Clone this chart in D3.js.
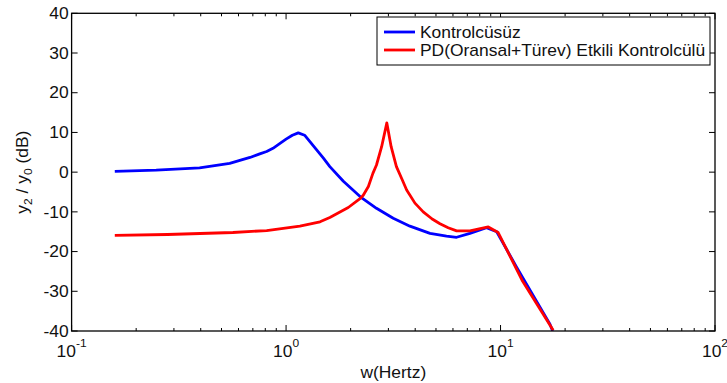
<!DOCTYPE html>
<html lang="tr">
<head>
<meta charset="UTF-8">
<title>y2/y0 frekans cevabı</title>
<style>
    body { margin: 0; background: #fff; }
    svg { display: block; font-family: "Liberation Sans", Arial, sans-serif; }
</style>
</head>
<body>
<script src="https://d3js.org/d3.v7.min.js"></script>
<script>
    const width = 727
    const height = 383

    // Kontrolcüsüz (blue)
    const blueFreq = [0.159, 0.248, 0.395, 0.546, 0.679, 0.754, 0.812, 0.869, 0.93, 1.0, 1.07, 1.14, 1.22, 1.49, 1.60, 1.85, 2.22, 2.64, 3.16, 3.78, 4.69, 5.6, 6.24, 7.2, 8.6, 9.6, 11.9, 17.0, 17.5]
    const blueDb = [0.2, 0.5, 1.1, 2.2, 3.7, 4.6, 5.2, 6.0, 7.1, 8.3, 9.3, 9.9, 9.3, 3.6, 1.4, -2.3, -6.2, -9.1, -11.6, -13.6, -15.4, -16.1, -16.4, -15.4, -14.0, -15.0, -24.0, -38.3, -40]

    // PD(Oransal+Türev) Etkili Kontrolcülü (red)
    const redFreq = [0.159, 0.28, 0.565, 0.812, 1.16, 1.44, 1.60, 1.95, 2.22, 2.29, 2.42, 2.54, 2.64, 2.79, 2.95, 3.09, 3.27, 3.46, 3.65, 3.99, 4.36, 4.8, 5.22, 5.7, 6.24, 7.2, 8.77, 9.75, 12.6, 17.6]
    const redDb = [-15.9, -15.7, -15.2, -14.7, -13.6, -12.5, -11.4, -8.9, -6.6, -5.8, -3.6, -0.3, 1.8, 6.4, 12.4, 6.4, 1.4, -1.6, -4.5, -7.8, -10.0, -11.8, -13.0, -14.0, -14.8, -14.8, -13.8, -15.2, -27.2, -39.8]

    const yTicks = [-40, -30, -20, -10, 0, 10, 20, 30, 40]
    const xDecades = [-1, 0, 1, 2]
    const legendLabels = ['Kontrolcüsüz', 'PD(Oransal+Türev) Etkili Kontrolcülü']
    const colors = ['#0000ff', '#ff0000']

    const pLeft = 71.6, pRight = 715, pTop = 13.3, pBottom = 331
    const stretch = 1.09 // text in the reference is a little wider than Arial

    const x = d3.scaleLog().domain([0.1, 100]).range([pLeft, pRight])
    const y = d3.scaleLinear().domain([-40, 40]).range([pBottom, pTop])

    const svg = d3.select('body').append('svg')
        .attr('width', width)
        .attr('height', height)

    // put a text at (tx, ty) with the horizontal stretch
    function place(sel, tx, ty) {
        sel.attr('transform', function (d, i) {
            const a = typeof tx === 'function' ? tx(d, i) : tx
            const b = typeof ty === 'function' ? ty(d, i) : ty
            return `translate(${ a },${ b }) scale(${ stretch },1)`
        })
    }

    // clip
    svg.append('clipPath').attr('id', 'plot')
        .append('rect')
        .attr('x', pLeft).attr('y', pTop)
        .attr('width', pRight - pLeft).attr('height', pBottom - pTop)

    // lines
    const series = [
        blueFreq.map((f, i) => [f, blueDb[i]]),
        redFreq.map((f, i) => [f, redDb[i]])
    ]
    const line = d3.line()
        .x(d => x(d[0]))
        .y(d => y(d[1]))

    svg.append('g')
        .attr('clip-path', 'url(#plot)')
        .selectAll('path')
        .data(series)
        .join('path')
        .attr('d', line)
        .attr('fill', 'none')
        .attr('stroke', (_, i) => colors[i])
        .attr('stroke-width', 2.8)
        .attr('stroke-linejoin', 'round')

    // ticks (inside, all four sides)
    const ticks = svg.append('g').attr('stroke', '#000').attr('stroke-width', 1)
    const minor = []
    for (let e = -1; e < 2; e++) {
        for (let k = 2; k <= 9; k++) minor.push(k * Math.pow(10, e))
    }
    minor.forEach(v => {
        const px = x(v)
        ticks.append('line').attr('x1', px).attr('x2', px).attr('y1', pBottom).attr('y2', pBottom - 3)
        ticks.append('line').attr('x1', px).attr('x2', px).attr('y1', pTop).attr('y2', pTop + 3)
    })
    xDecades.forEach(e => {
        const px = x(Math.pow(10, e))
        ticks.append('line').attr('x1', px).attr('x2', px).attr('y1', pBottom).attr('y2', pBottom - 6)
        ticks.append('line').attr('x1', px).attr('x2', px).attr('y1', pTop).attr('y2', pTop + 6)
    })
    yTicks.forEach(v => {
        const py = y(v)
        ticks.append('line').attr('x1', pLeft).attr('x2', pLeft + 6).attr('y1', py).attr('y2', py)
        ticks.append('line').attr('x1', pRight).attr('x2', pRight - 6).attr('y1', py).attr('y2', py)
    })

    // frame
    svg.append('rect')
        .attr('x', pLeft).attr('y', pTop)
        .attr('width', pRight - pLeft).attr('height', pBottom - pTop)
        .attr('fill', 'none')
        .attr('stroke', '#000')
        .attr('stroke-width', 1.3)

    // y tick labels
    svg.append('g')
        .selectAll('text')
        .data(yTicks)
        .join('text')
        .call(place, pLeft - 3, d => y(d))
        .attr('dy', '0.36em')
        .attr('text-anchor', 'end')
        .attr('font-size', 16)
        .attr('fill', '#111')
        .text(d => d)

    // x tick labels 10^n
    const xl = svg.append('g')
        .selectAll('text')
        .data(xDecades)
        .join('text')
        .call(place, d => x(Math.pow(10, d)), 357)
        .attr('text-anchor', 'middle')
        .attr('font-size', 16)
        .attr('fill', '#111')
    xl.append('tspan').text('10')
    xl.append('tspan')
        .attr('dy', -10)
        .attr('font-size', 11)
        .text(d => d)

    // axis titles
    svg.append('text')
        .call(place, (pLeft + pRight) / 2, 378)
        .attr('text-anchor', 'middle')
        .attr('font-size', 16)
        .attr('fill', '#111')
        .text('w(Hertz)')

    const yl = svg.append('text')
        .attr('transform', `translate(28, ${ (pTop + pBottom) / 2 }) rotate(-90) scale(${ stretch },1)`)
        .attr('text-anchor', 'middle')
        .attr('font-size', 16)
        .attr('fill', '#111')
    yl.append('tspan').text('y')
    yl.append('tspan').attr('font-size', 11).attr('dy', 4).text('2')
    yl.append('tspan').attr('dy', -4).text(' / y')
    yl.append('tspan').attr('font-size', 11).attr('dy', 4).text('0')
    yl.append('tspan').attr('dy', -4).text(' (dB)')

    // legend
    const lg = svg.append('g')
    lg.append('rect')
        .attr('x', 377).attr('y', 17)
        .attr('width', 333).attr('height', 48)
        .attr('fill', '#fff')
        .attr('stroke', '#000')
        .attr('stroke-width', 1)
    legendLabels.forEach((t, i) => {
        const ly = 32 + i * 18
        lg.append('line')
            .attr('x1', 384).attr('x2', 415)
            .attr('y1', ly).attr('y2', ly)
            .attr('stroke', colors[i])
            .attr('stroke-width', 2.8)
        lg.append('text')
            .call(place, 420, ly)
            .attr('dy', '0.36em')
            .attr('font-size', 16)
            .attr('fill', '#111')
            .text(t)
    })
</script>
</body>
</html>
